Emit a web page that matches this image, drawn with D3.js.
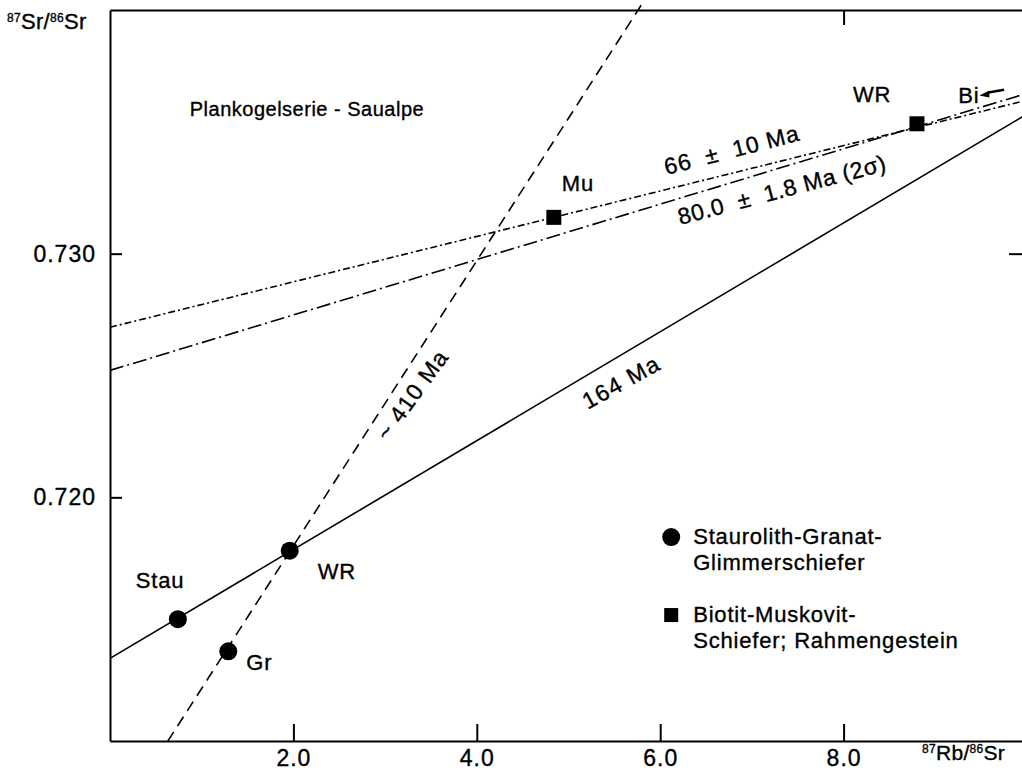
<!DOCTYPE html>
<html>
<head>
<meta charset="utf-8">
<script src="https://cdn.jsdelivr.net/npm/d3@7"></script>
<style>
  body { margin: 0; background: #fff; }
  svg { display: block; font-family: "Liberation Sans", Arial, sans-serif; }
  text { fill: #000; stroke: #000; stroke-width: 0.35px; }
</style>
</head>
<body>
<div id="chart"></div>
<script>
// x: 87Rb/86Sr, y: 87Sr/86Sr
const xTicks = [2, 4, 6, 8];
const yTicks = [0.720, 0.730];

// sample points
const circleSamples = [
  { name: 'Stau', rb: 0.74, sr: 0.71500 },
  { name: 'Gr',   rb: 1.29, sr: 0.71368 },
  { name: 'WR',   rb: 1.96, sr: 0.71781 }
];
const squareSamples = [
  { name: 'Mu', rb: 4.84, sr: 0.73149 },
  { name: 'WR', rb: 8.80, sr: 0.73533 }
];

// isochrons: intercept (initial ratio) + slope, drawn between x0 and x1
const isochrons = [
  { age: '164 Ma', intercept: 0.71339, slope: 0.002234, x0: 0, x1: 10, dash: null },
  { age: '~ 410 Ma', intercept: 0.70631, slope: 0.00585, x0: 0.63, x1: 5.83, dash: '11,7' },
  { age: '66 ± 10 Ma', intercept: 0.72698, slope: 0.000932, x0: 0, x1: 10, dash: '7,3,2,3' },
  { age: '80.0 ± 1.8 Ma (2σ)', intercept: 0.72521, slope: 0.001137, x0: 0, x1: 10, dash: '14,4,2,4' }
];

const W = 1022, H = 772;
const x = d3.scaleLinear().domain([0, 10]).range([110, 1027]);
const y = d3.scaleLinear().domain([0.710, 0.740]).range([741, 10]);

const svg = d3.select('#chart').append('svg')
  .attr('width', W)
  .attr('height', H);
svg.append('rect').attr('width', W).attr('height', H).attr('fill', '#fff');

// axes (ticks pointing inward)
svg.append('g')
  .attr('transform', `translate(0,${y(0.710)})`)
  .call(d3.axisBottom(x).tickValues(xTicks).tickFormat(d3.format('.1f'))
    .tickSize(-17).tickSizeOuter(0).tickPadding(9));
svg.append('g')
  .attr('transform', `translate(${x(0)},0)`)
  .call(d3.axisLeft(y).tickValues(yTicks).tickFormat(d3.format('.3f'))
    .tickSize(-12).tickSizeOuter(0).tickPadding(14));
// top + right frame
svg.append('g')
  .attr('transform', `translate(0,${y(0.740)})`)
  .call(d3.axisTop(x).tickValues([8]).tickFormat('').tickSize(-15).tickSizeOuter(0));
svg.append('g')
  .attr('transform', `translate(${x(10)},0)`)
  .call(d3.axisRight(y).tickValues([0.730]).tickFormat('').tickSize(-18).tickSizeOuter(0));

svg.selectAll('.domain').attr('stroke', '#000').attr('stroke-width', 2);
svg.selectAll('.tick line').attr('stroke', '#000').attr('stroke-width', 2);
svg.selectAll('.tick text')
  .attr('font-size', 23)
  .attr('letter-spacing', 1)
  .attr('font-family', '"Liberation Sans", Arial, sans-serif');

// isochron lines
svg.append('g')
  .selectAll('line')
  .data(isochrons)
  .join('line')
    .attr('x1', d => x(d.x0))
    .attr('y1', d => y(d.intercept + d.slope * d.x0))
    .attr('x2', d => x(d.x1))
    .attr('y2', d => y(d.intercept + d.slope * d.x1))
    .attr('stroke', '#000')
    .attr('stroke-width', 1.6)
    .attr('stroke-dasharray', d => d.dash);

// points
svg.append('g')
  .selectAll('circle')
  .data(circleSamples)
  .join('circle')
    .attr('cx', d => x(d.rb))
    .attr('cy', d => y(d.sr))
    .attr('r', 9)
    .attr('fill', '#000');
svg.append('g')
  .selectAll('rect')
  .data(squareSamples)
  .join('rect')
    .attr('x', d => x(d.rb) - 7.5)
    .attr('y', d => y(d.sr) - 7.5)
    .attr('width', 15)
    .attr('height', 15)
    .attr('fill', '#000');

// sample labels, offsets in px from the point
const labelOffset = {
  'Stau': [-42, -31], 'Gr': [18, 19], 'WR0': [28, 28],
  'Mu': [8, -26], 'WR1': [-64, -22]
};
const lab = svg.append('g').attr('font-size', 22).attr('letter-spacing', 0.8);
circleSamples.forEach(d => {
  const o = labelOffset[d.name === 'WR' ? 'WR0' : d.name];
  lab.append('text').attr('x', x(d.rb) + o[0]).attr('y', y(d.sr) + o[1]).text(d.name);
});
squareSamples.forEach(d => {
  const o = labelOffset[d.name === 'WR' ? 'WR1' : d.name];
  lab.append('text').attr('x', x(d.rb) + o[0]).attr('y', y(d.sr) + o[1]).text(d.name);
});
// Bi lies off the plot to the right
lab.append('text').attr('x', x(9.25)).attr('y', y(0.73618)).text('Bi');
svg.append('path')
  .attr('d', `M${x(9.75)},${y(0.73673)} L${x(9.58)},${y(0.73661)}`)
  .attr('stroke', '#000').attr('stroke-width', 2.5);
svg.append('path')
  .attr('d', `M${x(9.48)},${y(0.73649)} l10,-5 l0,7 z`)
  .attr('fill', '#000');

// rotated age labels along the isochrons
const ageLabels = [
  { text: '66  ±  10 Ma', rb: 6.07, sr: 0.73323, angle: -14.5, len: 138 },
  { text: '80.0  ±  1.8 Ma (2σ)', rb: 6.22, sr: 0.73118, angle: -14.8, len: 214 },
  { text: '~ 410 Ma', rb: 3.03, sr: 0.72227, angle: -54, len: 104 },
  { text: '164 Ma', rb: 5.21, sr: 0.72359, angle: -29, len: 84 }
];
svg.append('g')
  .selectAll('text')
  .data(ageLabels)
  .join('text')
    .attr('transform', d => `translate(${x(d.rb)},${y(d.sr)}) rotate(${d.angle})`)
    .attr('font-size', 23)
    .attr('textLength', d => d.len)
    .attr('lengthAdjust', 'spacing')
    .style('white-space', 'pre')
    .text(d => d.text);

// title inside plot
svg.append('text')
  .attr('x', x(0.87)).attr('y', y(0.73565))
  .attr('font-size', 20).attr('letter-spacing', 0.5)
  .text('Plankogelserie - Saualpe');

// axis titles with superscript mass numbers
const yTitle = svg.append('text').attr('x', 7).attr('y', 29).attr('font-size', 22).attr('letter-spacing', 0.3);
yTitle.append('tspan').attr('font-size', 12).attr('dy', -7).text('87');
yTitle.append('tspan').attr('dy', 7).text('Sr/');
yTitle.append('tspan').attr('font-size', 12).attr('dy', -7).text('86');
yTitle.append('tspan').attr('dy', 7).text('Sr');

const xTitle = svg.append('text').attr('x', 922).attr('y', 760).attr('font-size', 21).attr('letter-spacing', 0.3);
xTitle.append('tspan').attr('font-size', 12).attr('dy', -7).text('87');
xTitle.append('tspan').attr('dy', 7).text('Rb/');
xTitle.append('tspan').attr('font-size', 12).attr('dy', -7).text('86');
xTitle.append('tspan').attr('dy', 7).text('Sr');

// legend
const legendLines = [
  { shape: 'circle', lines: ['Staurolith-Granat-', 'Glimmerschiefer'] },
  { shape: 'square', lines: ['Biotit-Muskovit-', 'Schiefer; Rahmengestein'] }
];
const legend = svg.append('g').attr('transform', `translate(${x(6.12)},${y(0.71837)})`);
legendLines.forEach((d, i) => {
  const g = legend.append('g').attr('transform', `translate(0,${i * 78})`);
  if (d.shape === 'circle') {
    g.append('circle').attr('r', 9).attr('fill', '#000');
  } else {
    g.append('rect').attr('x', -7).attr('y', -7).attr('width', 14).attr('height', 14).attr('fill', '#000');
  }
  d.lines.forEach((t, j) => {
    g.append('text')
      .attr('x', 22).attr('y', 7 + j * 26)
      .attr('font-size', 22).attr('letter-spacing', 0.8)
      .text(t);
  });
});
</script>
</body>
</html>
